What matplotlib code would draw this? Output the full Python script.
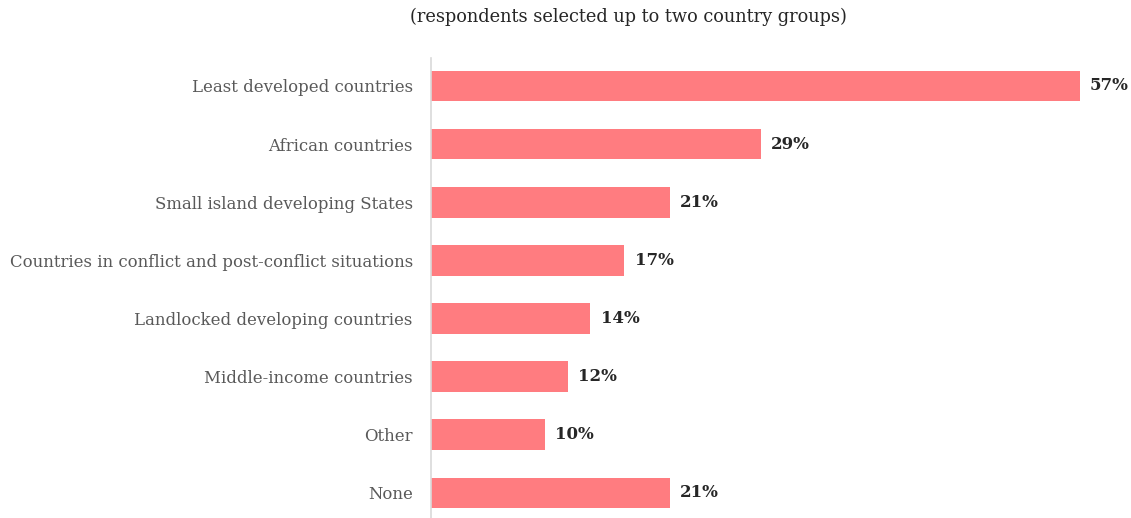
import matplotlib.pyplot as plt

categories = ["Least developed countries", "African countries", "Small island developing States",
              "Countries in conflict and post-conflict situations", "Landlocked developing countries",
              "Middle-income countries", "Other", "None"]
shares = [57, 29, 21, 17, 14, 12, 10, 21]

plt.rcParams['font.family'] = ['DejaVu Serif']

fig = plt.figure(figsize=(11.31, 5.18), dpi=100)
ax = fig.add_axes([0.381, 0.0, 0.619, 0.888])

ypos = range(len(categories))
ax.barh(ypos, shares, height=0.53, color='#FF7C80')
for y, v in zip(ypos, shares):
    ax.text(v + 0.9, y, f"{v}%", va='center', ha='left', fontsize=12,
            fontweight='bold', color='#262626')

ax.set_yticks(list(ypos))
ax.set_yticklabels(categories, fontsize=11.85, color='#595959')
ax.tick_params(axis='y', length=0, pad=13)
ax.set_xticks([])
ax.set_xlim(0, 61.5)
ax.set_ylim(7.43, -0.48)
for side in ['top', 'right', 'bottom']:
    ax.spines[side].set_visible(False)
ax.spines['left'].set_color('#D9D9D9')
ax.spines['left'].set_linewidth(1.2)

fig.text(0.556, 0.967, "(respondents selected up to two country groups)", ha='center', va='center',
         fontsize=12.8, color='#262626')

fig.savefig('out.png', dpi=100)
